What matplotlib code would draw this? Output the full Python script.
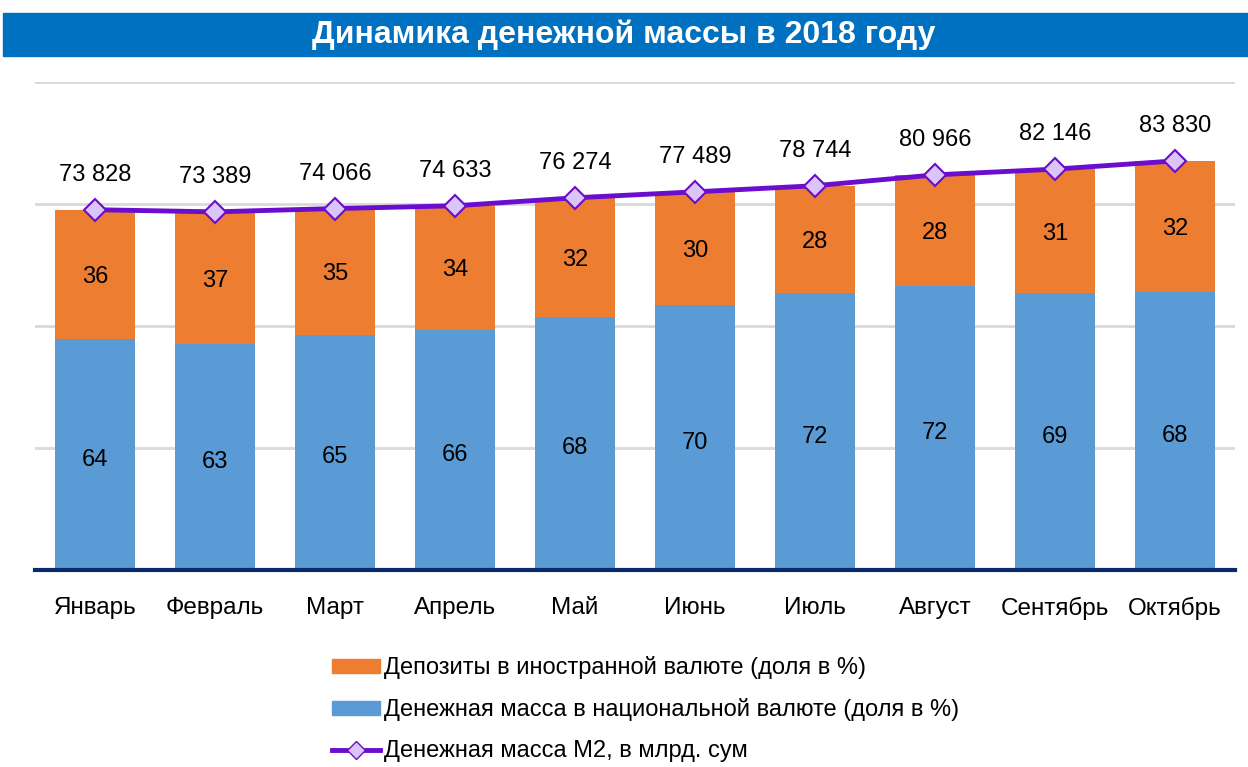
import matplotlib.pyplot as plt
from matplotlib import font_manager
from matplotlib.patches import Rectangle
from matplotlib.lines import Line2D
import numpy as np

months = ["Январь", "Февраль", "Март", "Апрель", "Май", "Июнь",
          "Июль", "Август", "Сентябрь", "Октябрь"]
m2 = [73828, 73389, 74066, 74633, 76274, 77489, 78744, 80966, 82146, 83830]
share_national = [64, 63, 65, 66, 68, 70, 72, 72, 69, 68]
share_foreign = [36, 37, 35, 34, 32, 30, 28, 28, 31, 32]

installed = {f.name for f in font_manager.fontManager.ttflist}
font = "Liberation Sans Narrow" if "Liberation Sans Narrow" in installed else "Liberation Sans"
plt.rcParams["font.family"] = [font, "DejaVu Sans"]

c_orange = "#ED7D31"
c_blue = "#5B9BD5"
c_line = "#6A0DCC"
c_marker = "#D9C6F7"

W, H = 1248, 767
fig = plt.figure(figsize=(W / 100, H / 100), dpi=100)

# title bar
fig.patches.append(Rectangle((3 / W, 1 - 56 / H), 1 - 3 / W, 43 / H,
                             transform=fig.transFigure, color="#0070C0", zorder=0))
fig.text(0.5, 1 - 35 / H, "Динамика денежной массы в 2018 году", ha="center", va="center",
         color="white", fontsize=23, fontweight="bold")

ax = fig.add_axes([35 / W, 1 - 570 / H, 1200 / W, 488 / H])
x = np.arange(len(months))
m2_arr = np.array(m2, dtype=float)
nat = m2_arr * np.array(share_national) / 100
forg = m2_arr * np.array(share_foreign) / 100

ax.bar(x, nat, width=0.667, color=c_blue, zorder=2)
ax.bar(x, forg, bottom=nat, width=0.667, color=c_orange, zorder=2)
ax.plot(x, m2_arr, color=c_line, lw=3.5, marker="D", markersize=11,
        markerfacecolor=c_marker, markeredgecolor=c_line, markeredgewidth=1.5, zorder=4)

for i in range(len(x)):
    ax.text(x[i], nat[i] / 2 - 1000, str(share_national[i]), ha="center", va="center", fontsize=17, zorder=5)
    ax.text(x[i], nat[i] + forg[i] / 2 - 500, str(share_foreign[i]), ha="center", va="center", fontsize=17, zorder=5)
    ax.annotate(f"{m2[i]:,}".replace(",", " "), (x[i], m2_arr[i]), xytext=(0, 25),
                textcoords="offset points", ha="center", va="center", fontsize=17, zorder=5)

ax.set_xlim(-0.5, len(x) - 0.5)
ax.set_ylim(0, 100000)
ax.set_yticks([0, 25000, 50000, 75000, 100000])
ax.yaxis.grid(True, color="#D9D9D9", lw=2, zorder=0)
ax.tick_params(axis="y", left=False, labelleft=False)
ax.tick_params(axis="x", bottom=False, labelsize=17.5, pad=16)
ax.set_xticks(x)
ax.set_xticklabels(months)
for s in ["top", "right", "left"]:
    ax.spines[s].set_visible(False)
ax.spines["bottom"].set_color("#0B2A6B")
ax.spines["bottom"].set_linewidth(3)
ax.spines["bottom"].set_zorder(6)

handles = [
    Rectangle((0, 0), 1, 1, color=c_orange),
    Rectangle((0, 0), 1, 1, color=c_blue),
    Line2D([], [], color=c_line, lw=3.5, marker="D", markersize=9,
           markerfacecolor=c_marker, markeredgecolor=c_line),
]
labels = ["Депозиты в иностранной валюте (доля в %)",
          "Денежная масса в национальной валюте (доля в %)",
          "Денежная масса М2, в млрд. сум"]
fig.legend(handles, labels, loc="upper left", bbox_to_anchor=(323 / W, 1 - 647 / H),
           frameon=False, fontsize=17, handlelength=2.0, handleheight=0.5,
           handletextpad=0.2, labelspacing=0.8, borderaxespad=0)

fig.savefig("out.png", dpi=100)
